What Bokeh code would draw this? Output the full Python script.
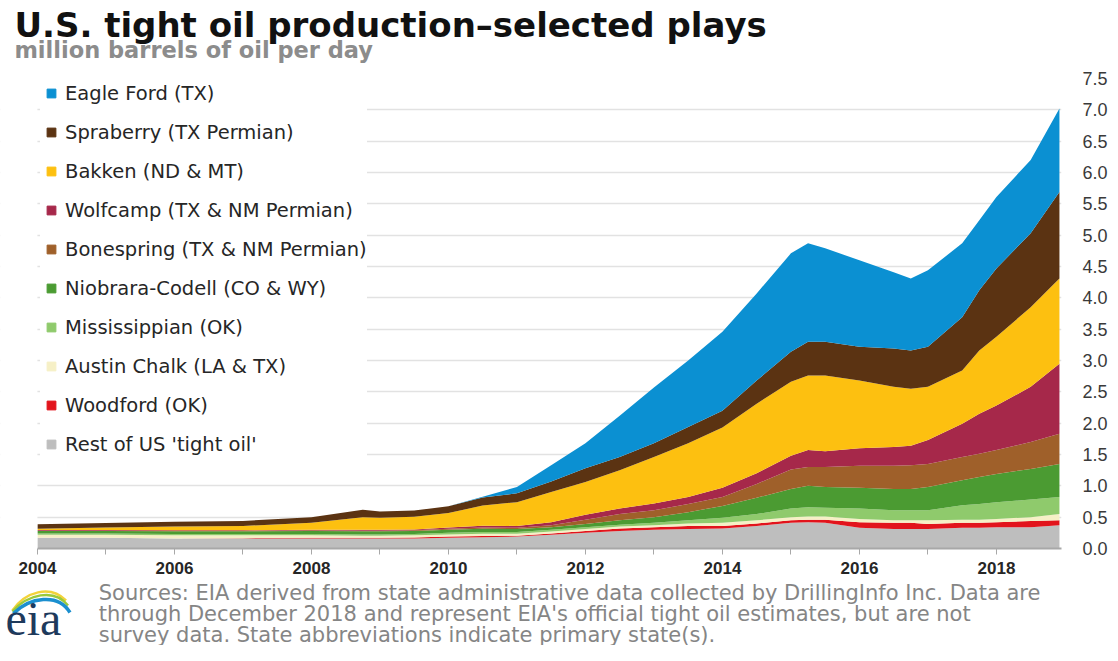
from bokeh.plotting import figure
from bokeh.layouts import column
from bokeh.models import (ColumnDataSource, Range1d, FixedTicker, Label, Legend,
                          LegendItem, NumeralTickFormatter, BoxAnnotation)
from bokeh.embed import file_html
from bokeh.resources import INLINE

# ---- data (million barrels per day) ----
years = [2004.0, 2005.0, 2006.0, 2007.0, 2008.0, 2008.75, 2009.0, 2009.5, 2010.0, 2010.5,
         2011.0, 2011.5, 2012.0, 2012.5, 2013.0, 2013.5, 2014.0, 2014.5, 2015.0, 2015.25,
         2015.5, 2016.0, 2016.5, 2016.75, 2017.0, 2017.5, 2017.75, 2018.0, 2018.5, 2018.92]

rest = [.17, .17, .16, .16, .16, .16, .16, .16, .17, .18,
        .19, .22, .25, .28, .30, .31, .32, .36, .41, .42,
        .41, .33, .31, .31, .31, .33, .33, .34, .34, .37]
woodford = [0, 0, 0, .005, .01, .01, .01, .015, .02, .02,
            .015, .02, .03, .04, .04, .05, .04, .04, .04, .04,
            .05, .09, .10, .10, .08, .08, .08, .08, .10, .08]
austin = [.05, .05, .05, .045, .04, .035, .035, .035, .035, .035,
          .03, .03, .03, .03, .03, .04, .05, .05, .05, .05,
          .05, .05, .04, .04, .06, .05, .05, .05, .06, .10]
mississippian = [.02, .02, .02, .02, .02, .02, .02, .02, .025, .03,
                 .03, .03, .03, .03, .04, .05, .08, .10, .14, .15,
                 .14, .17, .16, .16, .16, .23, .25, .27, .28, .27]
niobrara = [.04, .04, .045, .045, .05, .05, .05, .05, .05, .05,
            .045, .04, .05, .07, .09, .13, .19, .26, .31, .34,
            .33, .33, .34, .34, .37, .40, .43, .45, .49, .53]
bonespring = [.005, .005, .005, .005, .01, .01, .01, .01, .015, .02,
              .02, .03, .07, .10, .11, .13, .14, .22, .31, .30,
              .32, .35, .37, .38, .37, .37, .37, .38, .43, .48]
wolfcamp = [.01, .01, .01, .01, .01, .015, .015, .015, .02, .03,
            .03, .05, .08, .09, .11, .11, .15, .17, .22, .27,
            .25, .28, .30, .31, .38, .53, .64, .71, .88, 1.12]
bakken = [.02, .04, .06, .07, .11, .20, .19, .20, .23, .32,
          .38, .48, .52, .61, .74, .86, .96, 1.11, 1.18, 1.19,
          1.21, 1.08, .96, .91, .85, .85, 1.01, 1.10, 1.27, 1.36]
spraberry = [.07, .07, .075, .08, .09, .12, .10, .10, .11, .13,
             .14, .17, .22, .21, .22, .26, .27, .37, .48, .54,
             .54, .54, .61, .61, .64, .85, .96, 1.09, 1.18, 1.38]
eagle_ford = [0, 0, 0, 0, 0, 0, 0, 0, 0, .01,
              .10, .26, .40, .66, .89, 1.06, 1.26, 1.39, 1.57, 1.57,
              1.49, 1.38, 1.22, 1.15, 1.22, 1.18, 1.12, 1.14, 1.17, 1.33]

# bottom -> top
series_keys = ["rest", "woodford", "austin", "mississippian", "niobrara",
               "bonespring", "wolfcamp", "bakken", "spraberry", "eagle_ford"]
series_labels = ["Rest of US 'tight oil'", "Woodford (OK)", "Austin Chalk (LA & TX)",
                 "Mississippian (OK)", "Niobrara-Codell (CO & WY)",
                 "Bonespring (TX & NM Permian)", "Wolfcamp (TX & NM Permian)",
                 "Bakken (ND & MT)", "Spraberry (TX Permian)", "Eagle Ford (TX)"]
series_colors = ["#bebebe", "#e2141c", "#f6f0c6", "#8fca6c", "#4b9b32",
                 "#9f602a", "#a6284a", "#fdc010", "#5b3312", "#0b90d2"]

year_ticks = [2004, 2006, 2008, 2010, 2012, 2014, 2016, 2018]
year_minor = [2005, 2007, 2009, 2011, 2013, 2015, 2017]
y_ticks = [0.0, 0.5, 1.0, 1.5, 2.0, 2.5, 3.0, 3.5, 4.0, 4.5, 5.0, 5.5, 6.0, 6.5, 7.0, 7.5]

title_text = "U.S. tight oil production\u2013selected plays"
subtitle_text = "million barrels of oil per day"
notes = ["Sources: EIA derived from state administrative data collected by DrillingInfo Inc. Data are",
         "through December 2018 and represent EIA's official tight oil estimates, but are not",
         "survey data. State abbreviations indicate primary state(s)."]

W = 1102
FRAME_W = 1061          # plot frame spans the figure's left edge to the y axis
RIGHT_B = W - FRAME_W
TITLE_H = 70
MAIN_TOP, FRAME_H, MAIN_BOT = 8, 470, 33
FOOT_H = 645 - TITLE_H - MAIN_TOP - FRAME_H - MAIN_BOT
PX_PER_YEAR = 68.5
X_END = 2018.95
X_START = X_END - FRAME_W / PX_PER_YEAR


def blank_fig(h):
    f = figure(width=W, height=h, output_backend="svg", toolbar_location=None,
               x_range=Range1d(0, FRAME_W), y_range=Range1d(h, 0),
               x_axis_location=None, y_axis_location=None,
               min_border=0, min_border_left=0, min_border_right=RIGHT_B,
               min_border_top=0, min_border_bottom=0)
    f.outline_line_color = None
    f.grid.visible = False
    f.background_fill_color = "white"
    f.border_fill_color = "white"
    return f


# ---- title block ----
pt = blank_fig(TITLE_H)
pt.add_layout(Label(x=14, y=24, text=title_text, text_font="DejaVu Sans",
                    text_font_style="bold", text_font_size="34px",
                    text_color="#111111", text_baseline="middle"))
pt.add_layout(Label(x=14, y=49, text=subtitle_text, text_font="DejaVu Sans",
                    text_font_style="bold", text_font_size="22.5px",
                    text_color="#8c8c8c", text_baseline="middle"))

# ---- main chart ----
source = ColumnDataSource(data=dict(x=years, rest=rest, woodford=woodford, austin=austin,
                                    mississippian=mississippian, niobrara=niobrara,
                                    bonespring=bonespring, wolfcamp=wolfcamp, bakken=bakken,
                                    spraberry=spraberry, eagle_ford=eagle_ford))

p = figure(frame_width=FRAME_W, frame_height=FRAME_H, output_backend="svg",
           toolbar_location=None,
           x_range=Range1d(X_START, X_END), y_range=Range1d(0, 7.5),
           min_border_left=0, min_border_right=RIGHT_B, min_border_top=MAIN_TOP,
           min_border_bottom=MAIN_BOT, y_axis_location="right")
p.outline_line_color = None
p.background_fill_color = "white"
p.border_fill_color = "white"

p.varea_stack(stackers=series_keys, x="x", color=series_colors, source=source)

p.xgrid.visible = False
p.ygrid.ticker = FixedTicker(ticks=y_ticks)
p.ygrid.grid_line_color = "#e2e2e2"
p.ygrid.grid_line_width = 1.5
# keep the empty strip left of 2004 clean
p.add_layout(BoxAnnotation(left=X_START, right=years[0], fill_color="white",
                           fill_alpha=1.0, line_color=None))

ya = p.yaxis[0]
ya.ticker = FixedTicker(ticks=y_ticks)
ya.formatter = NumeralTickFormatter(format="0.0")
ya.axis_line_color = None
ya.major_tick_line_color = None
ya.minor_tick_line_color = None
ya.major_label_standoff = 15
ya.major_label_text_font = "Liberation Sans"
ya.major_label_text_font_size = "18px"
ya.major_label_text_color = "#3a3a3a"

xa = p.xaxis[0]
xa.ticker = FixedTicker(ticks=year_ticks, minor_ticks=year_minor)
xa.major_label_overrides = {t: str(t) for t in year_ticks}
xa.bounds = (years[0], X_END)
xa.axis_line_color = "#a8a8a8"
xa.axis_line_width = 2
xa.major_tick_line_color = "#a8a8a8"
xa.minor_tick_line_color = "#a8a8a8"
xa.major_tick_in = 0
xa.major_tick_out = 6
xa.minor_tick_in = 0
xa.minor_tick_out = 6
xa.major_label_standoff = 7
xa.major_label_text_font = "Liberation Sans"
xa.major_label_text_font_style = "bold"
xa.major_label_text_font_size = "17px"
xa.major_label_text_color = "#262626"

items = []
nan = float("nan")
for key, lab, col in reversed(list(zip(series_keys, series_labels, series_colors))):
    r = p.scatter(x=[nan], y=[nan], marker="square", color=col, size=10)
    items.append(LegendItem(label=lab, renderers=[r]))
legend = Legend(items=items, location=(40, 91), orientation="vertical",
                glyph_width=22, glyph_height=26, label_height=26, spacing=13,
                label_standoff=3, padding=3, margin=0,
                label_text_font="DejaVu Sans", label_text_font_size="19.5px",
                label_text_color="#262626",
                background_fill_color="white", background_fill_alpha=1.0,
                border_line_color=None)
p.add_layout(legend, "center")

# ---- footer ----
pf = blank_fig(FOOT_H)
for i, line in enumerate(notes):
    pf.add_layout(Label(x=99, y=11 + 21 * i, text=line, text_font="DejaVu Sans",
                        text_font_size="21px", text_color="#858585",
                        text_baseline="middle"))
# EIA logo
pf.bezier(x0=[12, 12, 13], y0=[29, 30, 32], x1=[66, 68, 70], y1=[19, 24, 31],
          cx0=[25, 27, 29], cy0=[10, 13, 16], cx1=[50, 54, 58], cy1=[3, 6, 11],
          line_color=["#f2d33a", "#9cc93b", "#1b8fcf"], line_width=[2.5, 2.5, 3.5])
pf.add_layout(Label(x=5, y=37, text="eia", text_font="Liberation Serif",
                    text_font_size="48px", text_color="#1e3a5c",
                    text_baseline="middle"))

layout = column(pt, p, pf, spacing=0)
open("out.html", "w").write(file_html(layout, INLINE))
